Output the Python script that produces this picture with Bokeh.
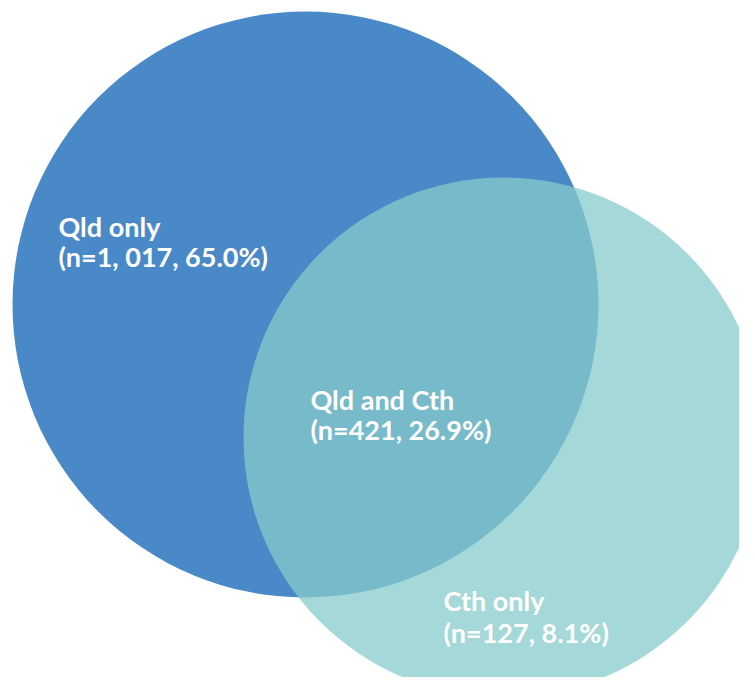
from bokeh.plotting import figure
from bokeh.models import Range1d
from bokeh.core.properties import value
from bokeh.embed import file_html
from bokeh.resources import INLINE

# Venn sets
set_names = ["Qld", "Cth"]
set_x = [305, 503]
set_y = [304, 437]
set_r = [293, 260]
set_colors = ["#4A89C8", "#87CBCB"]
set_alpha = [1.0, 0.75]

# Labels (one entry per line)
label_lines = ["Qld only", "(n=1, 017, 65.0%)",
               "Qld and Cth", "(n=421, 26.9%)",
               "Cth only", "(n=127, 8.1%)"]
label_x = [58, 58, 310, 310, 443, 443]
label_y = [226, 256, 399, 429, 600, 632]

W, H = 739, 677
p = figure(width=W, height=H, output_backend="svg", toolbar_location=None,
           x_range=Range1d(0, W), y_range=Range1d(H, 0),
           min_border=0, background_fill_color="white", border_fill_color="white")
p.axis.visible = False
p.grid.visible = False
p.outline_line_color = None

for i in range(len(set_names)):
    p.circle(x=[set_x[i]], y=[set_y[i]], radius=set_r[i], radius_dimension="x",
             fill_color=set_colors[i], fill_alpha=set_alpha[i], line_color=None)

p.text(x=label_x, y=label_y, text=label_lines, text_font=value("Lato"),
       text_font_style="bold", text_font_size="27px", text_color="white",
       text_align="left", text_baseline="alphabetic")

open("out.html", "w").write(file_html(p, INLINE))
